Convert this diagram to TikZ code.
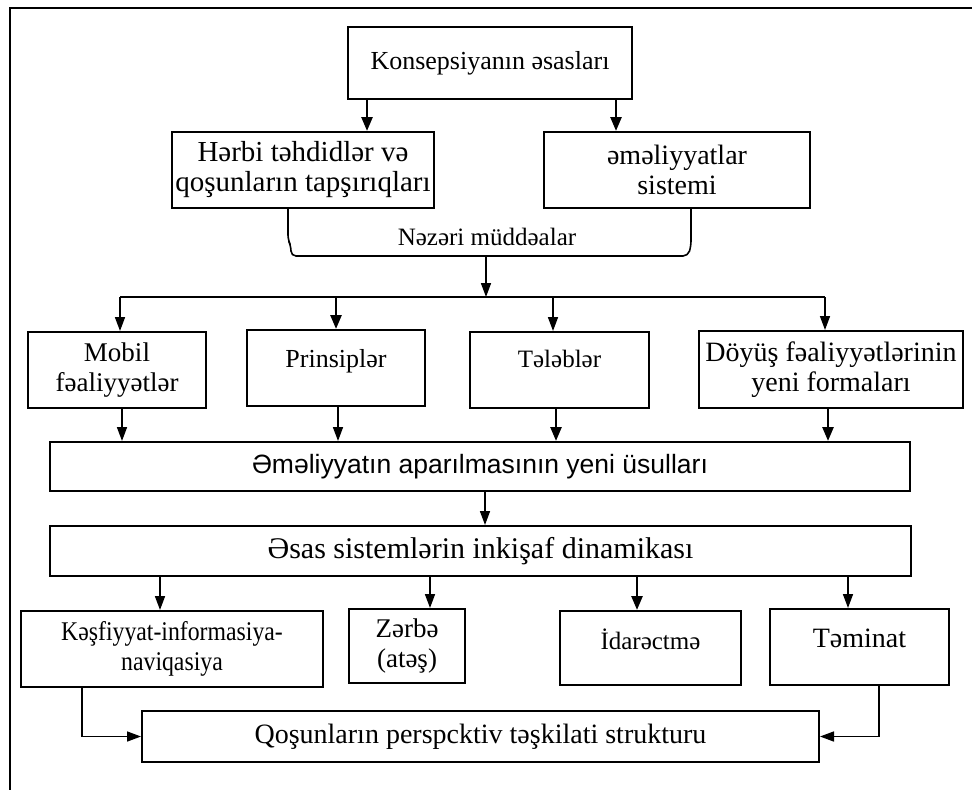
\documentclass[tikz,border=0pt]{standalone}
\usepackage{fontspec}
\setmainfont{Liberation Serif}
\newfontfamily\sansf{Liberation Sans}
\newfontfamily\condf[FakeStretch=0.88]{Liberation Serif}
\usetikzlibrary{arrows.meta}
\newcommand{\fs}[1]{\fontsize{#1}{30}\selectfont}
\begin{document}
\begin{tikzpicture}[x=1pt,y=-1pt,
  box/.style={draw,line width=2pt,inner sep=0pt,align=center,
    font=\fs{27}},
  ln/.style={line width=1.6pt},
  arr/.style={line width=1.6pt,-{Triangle[length=14pt,width=10pt]}},
  barr/.style={line width=2.6pt,-{Triangle[length=14pt,width=11pt]}}]
\useasboundingbox (0,0) rectangle (972,790);
% frame
\draw[line width=2.5pt] (972,8) -- (10,8) -- (10,790);
% nodes
\node[box,minimum width=284pt,minimum height=72pt,font=\fs{26}] (top) at (490,63) {Konsepsiyanın əsasları};
\node[box,minimum width=262pt,minimum height=76pt,font=\fs{29}] (herbi) at (303,170) {Hərbi təhdidlər və\\qoşunların tapşırıqları};
\node[box,minimum width=266pt,minimum height=76pt,font=\fs{28}] (emel) at (677,170) {əməliyyatlar\\sistemi};
\node[font=\fs{25}] (nez) at (487,237) {Nəzəri müddəalar};
\node[box,minimum width=178pt,minimum height=76pt,font=\fs{27}] (mobil) at (117,370) {Mobil\\fəaliyyətlər};
\node[box,minimum width=178pt,minimum height=76pt,font=\fs{26}] (prins) at (336,368) {\raisebox{20pt}{Prinsiplər}};
\node[box,minimum width=179pt,minimum height=76pt,font=\fs{25}] (teleb) at (559.5,370) {\raisebox{22pt}{Tələblər}};
\node[box,minimum width=264pt,minimum height=77pt,font=\fs{28}] (doyus) at (831,369.5) {Döyüş fəaliyyətlərinin\\yeni formaları};
\node[box,minimum width=860pt,minimum height=49pt,font=\sansf\fs{26.5}] (usul) at (480,466.5) {Əməliyyatın aparılmasının yeni üsulları};
\node[box,minimum width=861pt,minimum height=50pt,font=\fs{30}] (dinam) at (480.5,551) {Əsas sistemlərin inkişaf dinamikası};
\node[box,minimum width=302pt,minimum height=76pt,font=\condf\fs{27}] (kesf) at (172,649) {Kəşfiyyat-informasiya-\\naviqasiya};
\node[box,minimum width=116pt,minimum height=74pt,font=\fs{27}] (zerbe) at (407,646) {Zərbə\\(atəş)};
\node[box,minimum width=181pt,minimum height=74pt,font=\fs{25}] (idare) at (650.5,648) {\raisebox{18pt}{İdarəctmə}};
\node[box,minimum width=179pt,minimum height=76pt,font=\fs{28}] (temin) at (859.5,647) {\raisebox{18pt}{Təminat}};
\node[box,minimum width=677pt,minimum height=51pt,font=\fs{28}] (qosun) at (480.5,736.5) {Qoşunların perspcktiv təşkilati strukturu};
% top arrows
\draw[barr] (top.south -| 367,0) -- (herbi.north -| 367,0);
\draw[barr] (top.south -| 616,0) -- (emel.north -| 616,0);
% brace
\coordinate (bb) at (486,256);
\draw[ln,rounded corners=5pt] (herbi.south -| 288,0) -- (288,240) -- (291,246) -- (291,256) -- (688,256) -- (691,246) -- (emel.south -| 691,0);
% bus
\coordinate (busL) at (120,297);
\coordinate (busR) at (825,297);
\coordinate (busC) at (486,297);
\draw[arr] (bb) -- (busC);
\draw[ln] (busL) -- (busR);
\draw[arr] (busL) -- (mobil.north -| busL);
\draw[barr] (busC -| 336,0) -- (prins.north -| 336,0);
\draw[arr] (busC -| 553,0) -- (teleb.north -| 553,0);
\draw[arr] (busR) -- (doyus.north -| busR);
% row3 to usul
\draw[arr] (mobil.south -| 122,0) -- (usul.north -| 122,0);
\draw[arr] (prins.south -| 338,0) -- (usul.north -| 338,0);
\draw[barr] (teleb.south -| 556,0) -- (usul.north -| 556,0);
\draw[barr] (doyus.south -| 828,0) -- (usul.north -| 828,0);
% usul to dinam
\draw[arr] (usul.south -| 485,0) -- (dinam.north -| 485,0);
% dinam to row5
\draw[arr] (dinam.south -| 160,0) -- (kesf.north -| 160,0);
\draw[arr] (dinam.south -| 430,0) -- (zerbe.north -| 430,0);
\draw[barr] (dinam.south -| 637,0) -- (idare.north -| 637,0);
\draw[arr] (dinam.south -| 848,0) -- (temin.north -| 848,0);
% bottom connectors
\draw[arr] (kesf.south -| 82,0) |- (qosun.west);
\draw[arr] (temin.south -| 879,0) |- (qosun.east);
\end{tikzpicture}
\end{document}
